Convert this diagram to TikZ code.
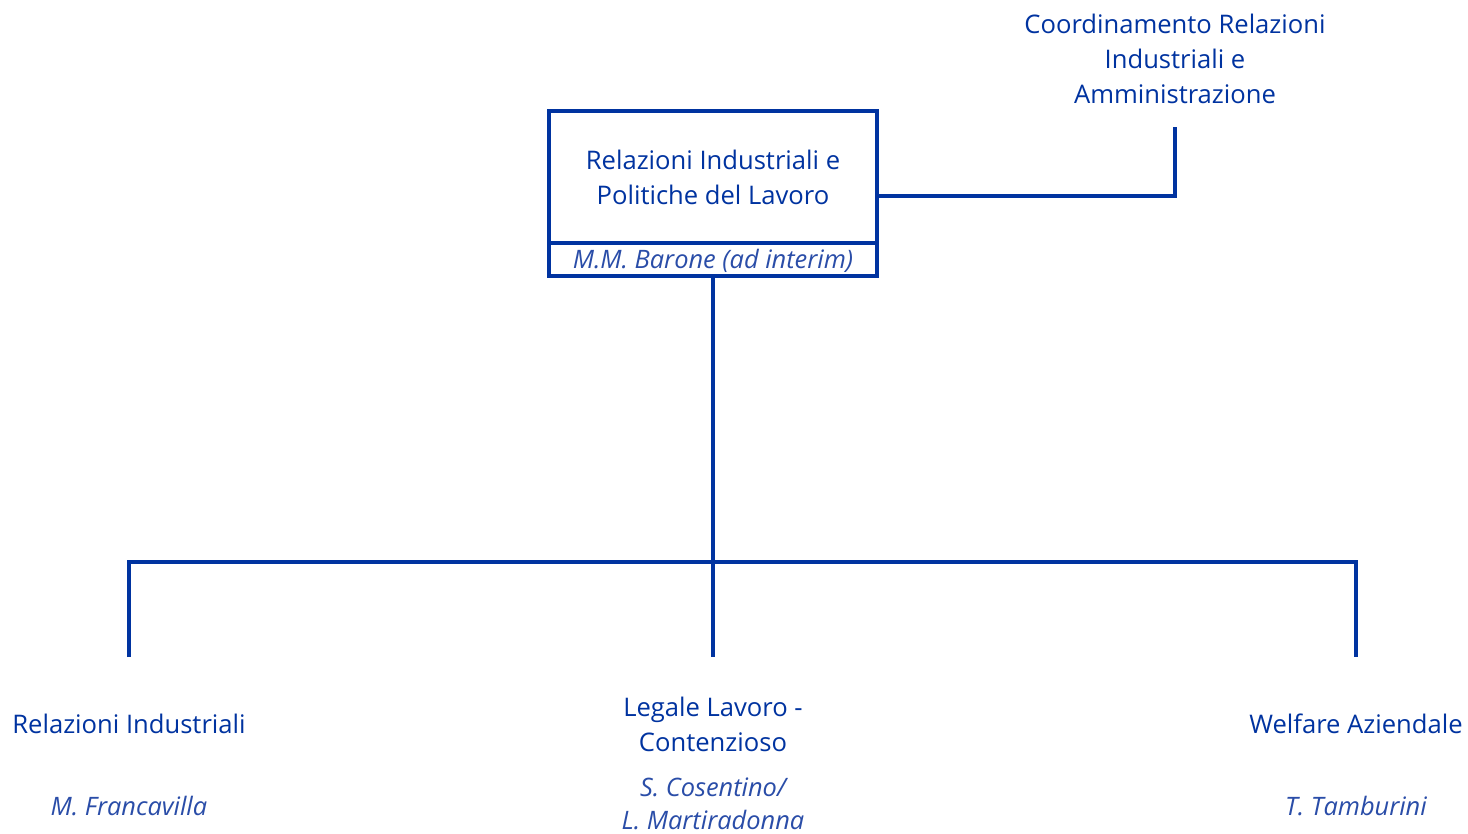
\documentclass[tikz,border=0pt]{standalone}
\usepackage{fontspec}
\setmainfont{Open Sans}
\begin{document}
\begin{tikzpicture}[x=1pt,y=-1pt,
  ln/.style={draw=orgblue,line width=3.2pt},
  unit/.style={text=orgblue,font=\fontsize{25.6}{35}\selectfont,align=center,inner sep=0pt},
  who/.style={text=namblue,font=\fontsize{25.4}{33}\selectfont\itshape,align=center,inner sep=0pt},
  mainbox/.style={draw=orgblue,line width=3.2pt,minimum width=328pt,minimum height=132pt,inner sep=0pt},
  namebox/.style={draw=orgblue,line width=3.2pt,minimum width=328pt,minimum height=33pt,inner sep=0pt}]
\definecolor{orgblue}{HTML}{0033A0}
\definecolor{namblue}{HTML}{2A4DA8}
\useasboundingbox (0,0) rectangle (1468,834);
\fill[white] (0,0) rectangle (1468,834);
% main box
\node[mainbox] (main) at (713,177) {};
\node[unit] (maintxt) at (713,177.5) {Relazioni Industriali e\\Politiche del Lavoro};
\node[namebox] (name) at (713,259.5) {};
\node[who] (nametxt) at (713,261) {M.M. Barone (ad interim)};
% coordination
\node[unit] (coord) at (1175,58.5) {Coordinamento Relazioni\\Industriali e\\Amministrazione};
\coordinate (cj) at (1175,196);
\coordinate (ctop) at (1175,127);
\draw[ln] (main.east |- cj) -- (cj) -- (ctop);
% bus
\coordinate (bus) at (713,562);
\coordinate (b1) at (129,562);
\coordinate (b3) at (1356,562);
\coordinate (d1) at (129,657);
\coordinate (d2) at (713,657);
\coordinate (d3) at (1356,657);
\draw[ln] (name.south) -- (d2);
\draw[ln] (d1) -- (b1) -- (b3) -- (d3);
% bottom units
\node[unit] (u1) at (129,724) {Relazioni Industriali};
\node[who] (n1) at (129,806) {M. Francavilla};
\node[unit] (u2) at (713,724.5) {Legale Lavoro -\\Contenzioso};
\node[who] (n2) at (713,803.5) {S. Cosentino/\\L. Martiradonna};
\node[unit] (u3) at (1356,724) {Welfare Aziendale};
\node[who] (n3) at (1356,806) {T. Tamburini};
\end{tikzpicture}
\end{document}
